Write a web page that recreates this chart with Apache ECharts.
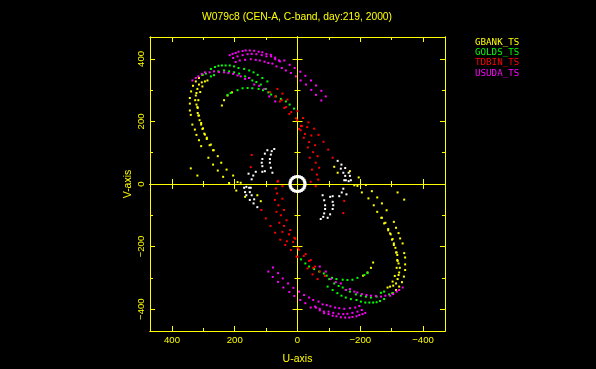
<!DOCTYPE html>
<html>
<head>
<meta charset="utf-8">
<style>
  html, body { margin: 0; padding: 0; background: #000; }
  #uvplot { width: 596px; height: 369px; }
</style>
<script src="https://cdn.jsdelivr.net/npm/echarts@6/dist/echarts.min.js"></script>
</head>
<body>
<div id="uvplot"></div>
<script>
// [u, v]
var gbank = [
  [303,349],[314,339],[324,328],[333,314],[339,296],[343,275],[343,257],[343,235],[340,221],[335,190],[327,174],[322,157],[314,140],[307,121],
  [295,328],[305,325],[314,318],[319,304],[322,291],[324,283],[326,268],[322,254],[318,243],[318,227],[316,219],[312,204],[307,190],[303,176],[297,161],[289,144],[280,124],[267,108],[254,89],[243,68],[226,46],[205,27],
  [287,331],[303,312],[310,294],[316,268],[319,246],[314,219],[307,195],[301,178],[295,158],[289,148],[276,126],[269,108],[284,84],[269,62],[254,43],[237,23],
  [241,251],[234,268],[223,283],[209,293],
  [340,50],[319,27],[218,3],[191,6],[181,4],[195,-21],[167,-41],[117,-55],[128,-36],
  [-303,-349],[-314,-339],[-324,-328],[-333,-314],[-339,-296],[-343,-275],[-343,-257],[-343,-235],[-340,-221],[-335,-190],[-327,-174],[-322,-157],[-314,-140],[-307,-121],
  [-295,-328],[-305,-325],[-314,-318],[-319,-304],[-322,-291],[-324,-283],[-326,-268],[-322,-254],[-318,-243],[-318,-227],[-316,-219],[-312,-204],[-307,-190],[-303,-176],[-297,-161],[-289,-144],[-280,-124],[-267,-108],[-254,-89],[-243,-68],[-226,-46],[-205,-27],
  [-287,-331],[-303,-312],[-310,-294],[-316,-268],[-319,-246],[-314,-219],[-307,-195],[-301,-178],[-295,-158],[-289,-148],[-276,-126],[-269,-108],[-284,-84],[-269,-62],[-254,-43],[-237,-23],
  [-241,-251],[-234,-268],[-223,-283],[-209,-293],
  [-340,-50],[-319,-27],[-218,-3],[-191,-6],[-181,-4],[-195,21],[-167,41],[-117,55],[-128,36]
];
var golds = [
  [276,368],[263,374],[252,378],[241,379],[229,379],[216,379],[202,376],[188,371],[170,368],[154,363],[140,357],[127,349],[112,339],[96,328],
  [303,349],[292,353],[276,344],[266,348],[252,360],[234,363],[218,360],[202,357],[186,353],[167,344],[154,339],[144,331],[131,326],[117,318],[101,304],[84,286],[69,280],[53,272],[37,264],[25,254],[11,241],
  [223,285],[213,291],[191,300],[175,306],[159,307],[144,306],[124,304],[110,300],[93,293],
  [-276,-368],[-263,-374],[-252,-378],[-241,-379],[-229,-379],[-216,-379],[-202,-376],[-188,-371],[-170,-368],[-154,-363],[-140,-357],[-127,-349],[-112,-339],[-96,-328],
  [-303,-349],[-292,-353],[-276,-344],[-266,-348],[-252,-360],[-234,-363],[-218,-360],[-202,-357],[-186,-353],[-167,-344],[-154,-339],[-144,-331],[-131,-326],[-117,-318],[-101,-304],[-84,-286],[-69,-280],[-53,-272],[-37,-264],[-25,-254],[-11,-241],
  [-223,-285],[-213,-291],[-191,-300],[-175,-306],[-159,-307],[-144,-306],[-124,-304],[-110,-300],[-93,-293]
];
var tdbin = [
  [64,304],[48,289],[88,294],[71,280],[56,264],[50,268],[32,270],[37,246],[42,243],[20,230],[26,224],[0,233],[5,210],[1,204],[146,93],[149,54],[64,8],[48,-7],
  [-64,-304],[-48,-289],[-88,-294],[-71,-280],[-56,-264],[-50,-268],[-32,-270],[-37,-246],[-42,-243],[-20,-230],[-26,-224],[0,-233],[-5,-210],[-1,-204],[-146,-93],[-149,-54],
  [-24,160],[-20,148],[-44,155],[-67,157],[-37,134],[-56,124],[-83,135],[-98,110],[-33,117],[-50,102],[-64,89],[-39,84],[-112,84],[-58,68],[-69,52],[-46,46],[-62,30],[-42,7],[-66,14],[-58,-7],[-14,185],[-10,172],
  [-18,211],[-35,197],[-11,186],[-31,182],[-53,177],[-5,176],
  [62,9],[69,-14],[65,-30],[72,-51],[48,-47],[61,-68],[43,-83],[53,-100],[67,-89],[35,-116],[58,-124],[43,-134],[86,-134],[23,-147],[71,-156],[48,-153],[27,-161],[7,-175],[101,-110],[115,-83],[14,-185],[10,-172],
  [55,-178],[34,-183],[39,-195],[21,-211],[3,-232]
];
var usuda = [
  [216,412],[207,416],[197,419],[188,423],[175,425],[165,427],[152,427],[138,426],[124,423],[112,421],[99,416],[85,413],[71,404],[59,395],[42,395],[25,381],[9,371],
  [205,403],[191,408],[175,412],[159,415],[146,416],[131,415],[114,412],[99,408],[84,408],[71,399],[56,392],
  [197,390],[184,395],[167,397],[149,399],[133,397],[120,395],[105,391],[93,387],[80,385],[67,376],[50,371],[37,363],[21,355],[5,344],
  [335,331],[324,339],[316,344],[305,352],[295,357],[280,357],[266,360],[250,358],[234,357],[220,355],[205,352],[191,347],[181,344],[167,336],[154,339],[138,318],[122,314],[106,304],[90,280],[71,264],
  [-9,359],[-25,346],[-10,331],[-43,331],[-27,318],[-59,315],[-44,301],[-76,298],[-59,285],[-90,280],[-76,267],
  [-216,-412],[-207,-416],[-197,-419],[-188,-423],[-175,-425],[-165,-427],[-152,-427],[-138,-426],[-124,-423],[-112,-421],[-99,-416],[-85,-413],[-71,-404],[-59,-395],[-42,-395],[-25,-381],[-9,-371],
  [-205,-403],[-191,-408],[-175,-412],[-159,-415],[-146,-416],[-131,-415],[-114,-412],[-99,-408],[-84,-408],[-71,-399],[-56,-392],
  [-197,-390],[-184,-395],[-167,-397],[-149,-399],[-133,-397],[-120,-395],[-105,-391],[-93,-387],[-80,-385],[-67,-376],[-50,-371],[-37,-363],[-21,-355],[-5,-344],
  [-335,-331],[-324,-339],[-316,-344],[-305,-352],[-295,-357],[-280,-357],[-266,-360],[-250,-358],[-234,-357],[-220,-355],[-205,-352],[-191,-347],[-181,-344],[-167,-336],[-154,-339],[-138,-318],[-122,-314],[-106,-304],[-90,-280],[-71,-264],
  [78,-267],[93,-280],[62,-285],[79,-297],[47,-302],[62,-313],[30,-318],[45,-331],[13,-332],[26,-345],[10,-358]
];
var shortBase = [
  [74,112],[82,105],[85,94],[88,80],[88,68],[85,52],[80,36],
  [96,108],[104,97],[112,80],[114,68],[112,57],[104,41],
  [112,39],[133,39],[156,33],[141,27],[146,15],[170,-12],[163,-9],[149,-12],[152,-26],[167,-26],[163,-36],[146,-36],[152,-51],[138,-49],[140,-62],[128,-74],[154,-12],
  [-74,-112],[-82,-105],[-85,-94],[-88,-80],[-88,-68],[-85,-52],[-80,-36],
  [-96,-108],[-104,-97],[-112,-80],[-114,-68],[-112,-57],[-104,-41],
  [-112,-39],[-133,-39],[-156,-33],[-141,-27],[-146,-15],[-170,12],[-163,9],[-149,12],[-152,26],[-167,26],[-163,36],[-146,36],[-152,51],[-138,49],[-140,62],[-128,74],[-154,12]
];
var ring = [
  [24,0],[23,6],[21,12],[17,17],[12,21],[6,23],[0,24],[-6,23],[-12,21],[-17,17],[-21,12],[-23,6],
  [-24,0],[-23,-6],[-21,-12],[-17,-17],[-12,-21],[-6,-23],[0,-24],[6,-23],[12,-21],[17,-17],[21,-12],[23,-6]
];

var majorTicks = [-400, -200, 0, 200, 400];
var minorTicks = [-300, -100, 100, 300];
var stations = ['GBANK_TS', 'GOLDS_TS', 'TDBIN_TS', 'USUDA_TS'];
var stationColors = ['#ffff00', '#00ff00', '#ff0000', '#ff00ff'];

var axisColor = '#ffff00';
var fontName = 'Liberation Sans';

function tickAxis(dim, position, ticks, len, inside, zero) {
  return {
    type: 'value',
    min: -470,
    max: 470,
    inverse: dim === 'x',
    position: position,
    axisLine: {
      show: true,
      onZero: zero,
      onZeroAxisIndex: 0,
      lineStyle: { color: axisColor, width: 1 }
    },
    axisTick: {
      show: true,
      inside: inside,
      length: len,
      customValues: ticks,
      lineStyle: { color: axisColor, width: 1 }
    },
    axisLabel: { show: false },
    splitLine: { show: false }
  };
}

// frame ticks point inward, the cross through 0 has them on both sides
function axesFor(dim, near, far) {
  var list = [
    tickAxis(dim, near, majorTicks, 5, true, false),
    tickAxis(dim, near, minorTicks, 3, true, false),
    tickAxis(dim, far, majorTicks, 5, true, false),
    tickAxis(dim, far, minorTicks, 3, true, false),
    tickAxis(dim, near, majorTicks, 5, true, true),
    tickAxis(dim, near, majorTicks, 5, false, true),
    tickAxis(dim, near, minorTicks, 3, true, true),
    tickAxis(dim, near, minorTicks, 3, false, true)
  ];
  list[0].axisLabel = {
    show: true,
    customValues: majorTicks,
    color: axisColor,
    fontFamily: fontName,
    fontSize: 9.6,
    margin: 4,
    rotate: dim === 'y' ? 90 : 0,
    formatter: function (val) { return String(val).replace('-', '\u2212'); }
  };
  list[0].name = dim === 'x' ? 'U-axis' : 'V-axis';
  list[0].nameLocation = 'middle';
  list[0].nameGap = dim === 'x' ? 23 : 16;
  list[0].nameTextStyle = { color: axisColor, fontFamily: fontName, fontSize: 10.5 };
  return list;
}

function dots(name, data, color, size) {
  return {
    name: name,
    type: 'scatter',
    data: data,
    symbol: 'rect',
    symbolSize: size,
    itemStyle: { color: color, opacity: 1 },
    silent: true
  };
}

var myChart = echarts.init(document.getElementById('uvplot'));

var option = {
  backgroundColor: '#000000',
  animation: false,
  title: {
    text: 'W079c8 (CEN-A, C-band, day:219, 2000)',
    left: 197,
    top: 7,
    textStyle: { color: axisColor, fontFamily: fontName, fontSize: 10.3, fontWeight: 'normal' }
  },
  legend: {
    orient: 'vertical',
    left: 470,
    top: 37,
    itemWidth: 0,
    itemHeight: 0,
    itemGap: 0,
    padding: 0,
    textStyle: { fontFamily: 'DejaVu Sans Mono', fontSize: 9.2, lineHeight: 10.4 },
    data: stations.map(function (name, i) {
      return { name: name, icon: 'rect', textStyle: { color: stationColors[i] } };
    })
  },
  grid: { left: 150, top: 37, width: 295, height: 294, outerBoundsMode: 'none' },
  xAxis: axesFor('x', 'bottom', 'top'),
  yAxis: axesFor('y', 'left', 'right'),
  series: [
    dots(stations[0], gbank, stationColors[0], 2),
    dots(stations[1], golds, stationColors[1], 2),
    dots(stations[2], tdbin, stationColors[2], 2),
    dots(stations[3], usuda, stationColors[3], 2),
    dots('short baselines', shortBase, '#ffffff', 2),
    dots('centre', ring, '#ffffff', 3)
  ]
};

option && myChart.setOption(option);
</script>
</body>
</html>
